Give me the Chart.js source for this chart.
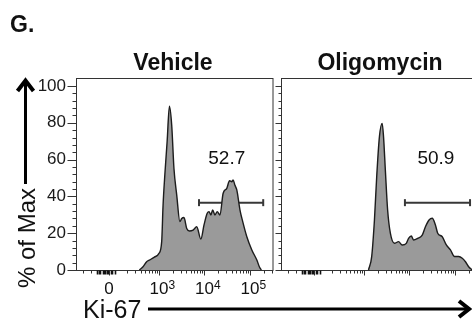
<!DOCTYPE html>
<html>
<head>
<meta charset="utf-8">
<script src="https://cdn.jsdelivr.net/npm/chart.js@4.4.1/dist/chart.umd.min.js"></script>
<style>
  html, body { margin: 0; padding: 0; background: #fff; }
  body { width: 472px; height: 320px; overflow: hidden; position: relative; }
  canvas { position: absolute; top: 0; }
  #c1 { left: 0; }
  #c2 { left: 275px; }
  svg { position: absolute; left: 0; top: 0; pointer-events: none; }
</style>
</head>
<body>
<canvas id="c1" width="280" height="320"></canvas>
<canvas id="c2" width="210" height="320"></canvas>
<svg width="472" height="320" font-family="'Liberation Sans', Arial, sans-serif" fill="#111">
  <text x="10" y="32" font-size="23" font-weight="bold">G.</text>
  <text x="173" y="70" font-size="23" font-weight="bold" text-anchor="middle">Vehicle</text>
  <text x="380" y="70" font-size="23" font-weight="bold" text-anchor="middle">Oligomycin</text>
  <text transform="translate(35,238) rotate(-90)" font-size="24" text-anchor="middle">% of Max</text>
  <line x1="25.5" y1="184" x2="25.5" y2="83" stroke="#000" stroke-width="3"/>
  <polyline points="17.5,91 25.5,80.5 33.5,91" fill="none" stroke="#000" stroke-width="4"/>
  <text x="83" y="318" font-size="25">Ki-67</text>
  <line x1="148" y1="309" x2="467" y2="309" stroke="#000" stroke-width="3"/>
  <polyline points="459,301 469,309 459,317" fill="none" stroke="#000" stroke-width="4"/>
</svg>
<script>
// x in display decades (10^3 -> 3), y in % of Max
const xTickValues = [1.9, 3, 4, 5];
const xTickLabels = ['0', '10^3', '10^4', '10^5'];
const xZeroTicks = [1.64, 1.68, 1.71, 1.77, 1.79, 1.81, 1.86, 1.88, 1.95, 1.97, 2.03];
const xFarTicks = [1.33, 1.5];
const yTickValues = [0, 20, 40, 60, 80, 100];

const vehicleX = [2.57, 2.65, 2.73, 2.80, 2.90, 3.00, 3.06, 3.09, 3.13, 3.18, 3.23, 3.28, 3.33, 3.39, 3.46, 3.50, 3.55, 3.61, 3.67, 3.75, 3.83, 3.92, 3.99, 4.06, 4.10, 4.14, 4.18, 4.23, 4.28, 4.34, 4.41, 4.49, 4.55, 4.60, 4.63, 4.67, 4.71, 4.78, 4.84, 4.93, 5.04, 5.15, 5.21, 5.25];
const vehicleY = [0, 1.8, 4.5, 5.5, 7, 9, 15.4, 35, 52, 70, 89, 78.8, 55, 40.8, 26.3, 28, 28.5, 22.6, 21.2, 21.7, 23.5, 16.8, 24.5, 30.8, 31.7, 29.9, 32.6, 29.9, 31.7, 29.9, 41.7, 44.4, 48.5, 48, 48.9, 46, 43.5, 32.6, 26.3, 18.1, 10.9, 5.4, 1.5, 0];

const oligoX = [3.10, 3.17, 3.23, 3.28, 3.34, 3.40, 3.43, 3.47, 3.52, 3.58, 3.67, 3.76, 3.84, 3.93, 3.98, 4.04, 4.09, 4.18, 4.28, 4.35, 4.43, 4.50, 4.57, 4.62, 4.72, 4.81, 4.90, 4.99, 5.08, 5.16, 5.23, 5.30, 5.38];
const oligoY = [0, 7.3, 27, 50.7, 72.5, 79.7, 72.5, 54.3, 32.6, 20, 14.5, 15.4, 13.6, 14.5, 17.2, 18.5, 16.3, 17.2, 19, 23.5, 27.2, 28.1, 24.5, 20, 18.1, 13.6, 10.9, 7.3, 7.3, 6.4, 4.5, 1.8, 0];

// gates: [vehicle, oligomycin]
const gateStart = [3.88, 3.90];
const gateEnd = [5.29, 5.33];
const gateLevel = [36.6, 36.6];
const gatePercent = ['52.7', '50.9'];
const gateLabelX = [4.49, 4.58];
const gateLabelY = [60.4, 60.2];

const FONT = "'Liberation Sans', Arial, sans-serif";
Chart.defaults.font.family = FONT;

// log minor ticks 2..9 x 10^d
const xMinorTicks = xFarTicks.slice();
for (let d = 2; d <= 5; d++) {
    for (let k = 2; k <= 9; k++) xMinorTicks.push(Math.log10(k * Math.pow(10, d)));
}
const yMinorTicks = [];
for (let v = 4; v < 104; v += 4) if (v % 20) yMinorTicks.push(v);

// frame, tick marks and x labels with superscripts
const axisMarks = {
    id: 'axisMarks',
    afterDraw(chart, args, opts) {
        const { ctx, chartArea: a, scales: { x, y } } = chart;
        ctx.save();
        ctx.strokeStyle = '#333';
        ctx.lineWidth = 1;
        const L = Math.round(a.left) - 0.5, B = Math.round(a.bottom) + 0.5;
        ctx.strokeRect(L, Math.round(a.top) + 0.5, Math.round(a.right) - L, B - Math.round(a.top) - 0.5);

        ctx.beginPath();
        yTickValues.forEach(v => {
            const py = Math.round(y.getPixelForValue(v)) + 0.5;
            ctx.moveTo(L - opts.yMajor, py); ctx.lineTo(L, py);
        });
        yMinorTicks.forEach(v => {
            const py = Math.round(y.getPixelForValue(v)) + 0.5;
            ctx.moveTo(L - opts.yMinor, py); ctx.lineTo(L, py);
        });
        xTickValues.forEach(v => {
            const px = Math.round(x.getPixelForValue(v)) + 0.5;
            if (px > a.left && px < a.right) { ctx.moveTo(px, B); ctx.lineTo(px, B + 5); }
        });
        xMinorTicks.forEach(v => {
            const px = Math.round(x.getPixelForValue(v)) + 0.5;
            if (px > a.left && px < a.right) { ctx.moveTo(px, B); ctx.lineTo(px, B + 3); }
        });
        ctx.stroke();

        // dense ticks around zero
        ctx.beginPath();
        ctx.strokeStyle = '#111';
        ctx.lineWidth = 1.6;
        xZeroTicks.forEach(v => {
            const px = Math.round(x.getPixelForValue(v)) + 0.5;
            ctx.moveTo(px, B); ctx.lineTo(px, B + 4);
        });
        ctx.stroke();

        // gate percentage
        const i = opts.panel;
        ctx.fillStyle = '#111';
        ctx.font = '19px ' + FONT;
        ctx.textAlign = 'center';
        ctx.textBaseline = 'middle';
        ctx.fillText(gatePercent[i], x.getPixelForValue(gateLabelX[i]), y.getPixelForValue(gateLabelY[i]));

        if (opts.xLabels) {
            ctx.textBaseline = 'alphabetic';
            xTickValues.forEach((v, j) => {
                const [base, exp] = xTickLabels[j].split('^');
                const px = x.getPixelForValue(v);
                ctx.font = '17px ' + FONT;
                ctx.textAlign = 'center';
                ctx.fillText(base, px, 294);
                if (exp) {
                    const w = ctx.measureText(base).width;
                    ctx.font = '12px ' + FONT;
                    ctx.textAlign = 'left';
                    ctx.fillText(exp, px + w / 2, 288.5);
                }
            });
        }
        ctx.restore();
    }
};

function makePanel(id, xs, ys, i, yWidth, showYLabels, yMajor, yMinor) {
    const ctx = document.getElementById(id).getContext('2d');
    return new Chart(ctx, {
        type: 'line',
        data: {
            datasets: [
                {
                    data: xs.map((v, k) => ({ x: v, y: ys[k] })),
                    fill: 'origin',
                    backgroundColor: '#9a9a9a',
                    borderColor: '#1c1c1c',
                    borderWidth: 1.4,
                    pointRadius: 0,
                    cubicInterpolationMode: 'monotone'
                },
                {
                    data: [{ x: gateStart[i], y: gateLevel[i] }, { x: gateEnd[i], y: gateLevel[i] }],
                    borderColor: '#383838',
                    borderWidth: 2,
                    fill: false,
                    pointStyle: 'line',
                    pointRotation: 90,
                    pointRadius: 3.5,
                    pointBorderWidth: 2,
                    pointBorderColor: '#383838'
                }
            ]
        },
        options: {
            responsive: false,
            animation: false,
            devicePixelRatio: 1,
            layout: { padding: { left: 0, right: 7, top: 78, bottom: 0 } },
            plugins: {
                legend: { display: false },
                tooltip: { enabled: false },
                axisMarks: { panel: i, xLabels: showYLabels, yMajor, yMinor }
            },
            scales: {
                x: {
                    type: 'linear', min: 1.2, max: 5.505,
                    ticks: { display: false },
                    grid: { display: false, drawTicks: false },
                    border: { display: false },
                    afterFit: s => { s.height = 50; }
                },
                y: {
                    min: 0, max: 104.35,
                    afterBuildTicks: s => { s.ticks = yTickValues.map(v => ({ value: v })); },
                    ticks: { display: showYLabels, padding: 11, color: '#1a1a1a', font: { size: 17 } },
                    grid: { display: false, drawTicks: false },
                    border: { display: false },
                    afterFit: s => { s.width = yWidth; }
                }
            }
        },
        plugins: [axisMarks]
    });
}

makePanel('c1', vehicleX, vehicleY, 0, 77, true, 9, 4);
makePanel('c2', oligoX, oligoY, 1, 7, false, 6, 3);
</script>
</body>
</html>
